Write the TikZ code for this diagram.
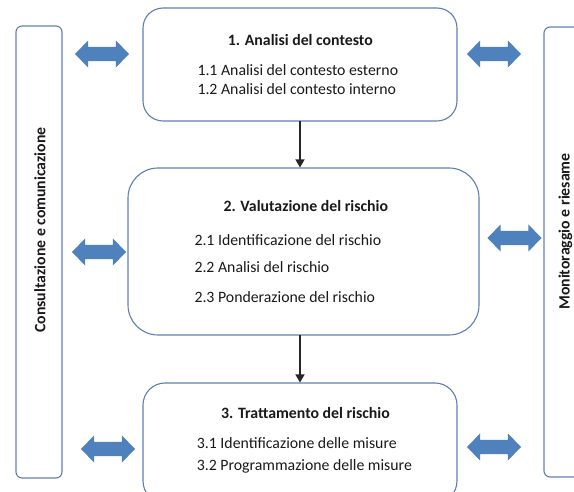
\documentclass[tikz,border=0pt]{standalone}
\usepackage{fontspec}
\setmainfont{Carlito}
\usetikzlibrary{shapes.arrows,arrows.meta}
\definecolor{boxline}{HTML}{5F7FB3}
\definecolor{arrowblue}{HTML}{4F81BD}
\definecolor{txt}{HTML}{1A1A1A}
\begin{document}
\begin{tikzpicture}[x=1pt,y=-1pt,
  every node/.style={text=txt,font=\fontsize{15.8}{19}\selectfont},
  stagebox/.style={draw=boxline,line width=1.1pt,fill=white,inner sep=0pt},
  sidebox/.style={draw=boxline,line width=1.1pt,rounded corners=6pt,inner sep=0pt},
  dblarrow/.style={double arrow,fill=arrowblue,draw=none,inner xsep=0pt,inner ysep=7pt,
     minimum height=54pt,double arrow head extend=6.5pt,
     double arrow tip angle=92},
  lbl/.style={anchor=base west,inner sep=0pt},
  ttl/.style={anchor=base west,inner sep=0pt,font=\fontsize{15.8}{19}\selectfont\bfseries},
  flow/.style={draw=black!85,line width=1.5pt,-{Triangle[length=8pt,width=9pt]}}
]
\useasboundingbox (0,0) rectangle (574,492);
\clip (0,0) rectangle (574,492);
% side boxes
\node[sidebox,minimum width=46pt,minimum height=452pt] (cons) at (39,252) {};
\node[sidebox,minimum width=60pt,minimum height=450pt] (moni) at (574,252) {};
\node[rotate=90,font=\fontsize{15.8}{19}\selectfont\bfseries] (consT) at (40,230) {Consultazione e comunicazione};
\node[rotate=90,font=\fontsize{15.8}{19}\selectfont\bfseries] (moniT) at (565.5,231.5) {Monitoraggio e riesame};
% stage boxes
\node[stagebox,rounded corners=20pt,minimum width=314pt,minimum height=113pt] (b1) at (300,64.5) {};
\node[stagebox,rounded corners=30pt,minimum width=351pt,minimum height=167pt] (b2) at (303.5,251.5) {};
\node[stagebox,rounded corners=22pt,minimum width=314pt,minimum height=120pt] (b3) at (300,443) {};
% texts
\node[ttl] (t1) at (227.7,45.5) {1. Analisi del contesto};
\node[lbl] (t11) at (197.3,76) {1.1 Analisi del contesto esterno};
\node[lbl] (t12) at (197.3,95) {1.2 Analisi del contesto interno};
\node[ttl] (t2) at (223.3,211.7) {2. Valutazione del rischio};
\node[lbl] (t21) at (194.3,245.7) {2.1 Identificazione del rischio};
\node[lbl] (t22) at (194.3,273) {2.2 Analisi del rischio};
\node[lbl] (t23) at (194.3,302.7) {2.3 Ponderazione del rischio};
\node[ttl] (t3) at (221,418) {3. Trattamento del rischio};
\node[lbl] (t31) at (196.7,449) {3.1 Identificazione delle misure};
\node[lbl] (t32) at (196.7,470.7) {3.2 Programmazione delle misure};
% flow arrows
\coordinate (f1s) at (300,121);
\coordinate (f2s) at (300,335);
\draw[flow] (f1s) -- (f1s |- b2.north);
\draw[flow] (f2s) -- (f2s |- b3.north);
% double arrows
\node[dblarrow] (a1l) at (102,54) {};
\node[dblarrow] (a1r) at (494,54) {};
\node[dblarrow] (a2l) at (99,252) {};
\node[dblarrow] (a2r) at (514.5,238) {};
\node[dblarrow] (a3l) at (108,449) {};
\node[dblarrow] (a3r) at (494,447) {};
\end{tikzpicture}
\end{document}
